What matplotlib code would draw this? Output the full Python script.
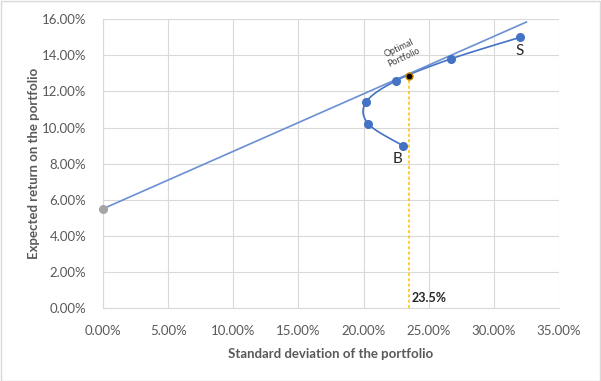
import matplotlib
matplotlib.use("Agg")
import matplotlib.pyplot as plt
import numpy as np

plt.rcParams['font.family'] = ['Lato', 'DejaVu Sans']

# portfolio frontier (std dev %, expected return %)
frontier_sd = [23.0, 20.37, 20.18, 22.50, 26.68, 32.0]
frontier_ret = [9.0, 10.2, 11.4, 12.6, 13.8, 15.0]

# capital allocation line
cal_sd = [0.0, 32.5]
cal_ret = [5.5, 15.85]
rf_sd, rf_ret = 0.0, 5.5

opt_sd, opt_ret = 23.5, 12.86


def smooth(x, y, n=20):
    # Catmull-Rom style smoothing like Excel's smoothed line
    x = np.asarray(x, float)
    y = np.asarray(y, float)
    px = np.concatenate([[x[0]], x, [x[-1]]])
    py = np.concatenate([[y[0]], y, [y[-1]]])
    ox, oy = [], []
    t = np.linspace(0, 1, n)
    for i in range(1, len(px) - 2):
        p0, p1, p2, p3 = [np.array([px[j], py[j]]) for j in (i - 1, i, i + 1, i + 2)]
        c1 = p1 + (p2 - p0) / 6
        c2 = p2 - (p3 - p1) / 6
        pts = ((1 - t) ** 3)[:, None] * p1 + (3 * (1 - t) ** 2 * t)[:, None] * c1 \
            + (3 * (1 - t) * t ** 2)[:, None] * c2 + (t ** 3)[:, None] * p2
        ox.extend(pts[:, 0])
        oy.extend(pts[:, 1])
    return ox, oy


fig = plt.figure(figsize=(6.01, 3.81), dpi=100)
fig.patches.append(plt.Rectangle((0.001, 0.001), 0.997, 0.997, transform=fig.transFigure,
                                 fill=False, edgecolor='#D9D9D9', lw=1))
ax = fig.add_axes([0.1714, 0.1916, 0.7587, 0.7577])

blue = '#4472C4'
sx, sy = smooth(frontier_sd, frontier_ret)
ax.plot(sx, sy, color=blue, lw=1.2, zorder=3)
ax.plot(frontier_sd, frontier_ret, 'o', color=blue, ms=5.5, zorder=4)

ax.plot(cal_sd, cal_ret, color='#6A8FD2', lw=1.2, zorder=3)
ax.plot(rf_sd, rf_ret, 'o', color='#A5A5A5', ms=5.5, zorder=5, clip_on=False)

ax.plot([opt_sd, opt_sd], [0, opt_ret], color='#FFC000', lw=1.1, ls=(0, (2, 1.5)), zorder=2)
ax.plot(opt_sd, opt_ret, 'o', color='black', mec='#C08000', ms=5, zorder=6)

ax.text(opt_sd + 0.2, 0.2, '23.5%', fontsize=9, fontweight='bold', color='#262626', va='bottom')
ax.text(frontier_sd[-1], frontier_ret[-1] - 0.35, 'S', fontsize=11, color='#262626', ha='center', va='top')
ax.text(frontier_sd[0] - 0.4, frontier_ret[0] - 0.35, 'B', fontsize=11, color='#262626', ha='center', va='top')
ax.text(22.9, 13.25, 'Optimal\nPortfolio', fontsize=6.5, color='#404040', rotation=25,
        ha='center', va='bottom', linespacing=1.1)

ax.set_xlim(0, 35)
ax.set_ylim(0, 16)
ax.set_xticks(np.arange(0, 36, 5))
ax.set_yticks(np.arange(0, 17, 2))
ax.set_xticklabels([f'{v:.2f}%' for v in np.arange(0, 36, 5)])
ax.set_yticklabels([f'{v:.2f}%' for v in np.arange(0, 17, 2)])
ax.tick_params(colors='#595959', labelsize=9.5, length=0)
ax.tick_params(axis='x', pad=12)
ax.tick_params(axis='y', pad=12)
ax.grid(True, color='#D9D9D9', lw=0.8)
ax.set_axisbelow(True)
for s in ['top', 'right']:
    ax.spines[s].set_visible(False)
for s in ['left', 'bottom']:
    ax.spines[s].set_color('#D9D9D9')

ax.set_xlabel('Standard deviation of the portfolio', fontsize=9.5, fontweight='bold', color='#595959', labelpad=8)
ax.set_ylabel('Expected return on the portfolio', fontsize=9.5, fontweight='bold', color='#595959', labelpad=1)

fig.savefig('out.png', dpi=100)
